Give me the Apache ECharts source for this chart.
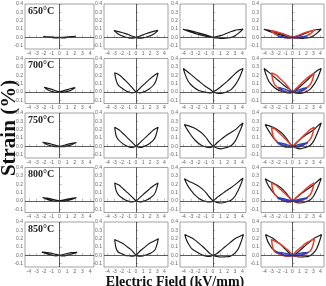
<!DOCTYPE html>
<html>
<head>
<meta charset="utf-8">
<script src="https://cdn.jsdelivr.net/npm/echarts@6/dist/echarts.min.js"></script>
<style>
  html, body { margin: 0; padding: 0; background: #fff; }
  #chart { width: 326px; height: 286px; }
</style>
</head>
<body>
<div id="chart"></div>
<script>
// tick labels and row titles
const fieldTicks = [-4, -3, -2, -1, 0, 1, 2, 3, 4]
const strainTicks = [-0.1, 0, 0.1, 0.2, 0.3, 0.4]
const temperatures = ['650°C', '700°C', '750°C', '800°C', '850°C']

// strain loops [E (kV/mm), S (%)]
// _2 = small field (col 1, blue in overlay), _3 = col 2 (red), _4 = col 3 (black)
const s650_2 = [[0,0],[0.5,-0.006],[1,-0.002],[1.5,0.004],[2.1,0.012],[1.5,0.008],[1,0.004],[0.5,0.0],[0,-0.004],[-0.5,-0.006],[-1,-0.002],[-1.5,0.004],[-2.1,0.01],[-1.5,0.007],[-1,0.003],[-0.5,0.0],[0,0]]
const s650_3 = [[0,0],[0.5,-0.01],[1,-0.006],[1.5,0.004],[2,0.018],[2.5,0.04],[2.8,0.06],[3.1,0.085],[2.6,0.074],[2,0.06],[1.5,0.046],[1,0.03],[0.5,0.013],[0,0],[-0.5,-0.01],[-1,-0.006],[-1.5,0.004],[-2,0.018],[-2.5,0.04],[-2.8,0.06],[-3.1,0.082],[-2.6,0.072],[-2,0.058],[-1.5,0.045],[-1,0.03],[-0.5,0.013],[0,0]]
const s650_4 = [[0,0],[0.5,-0.008],[1,-0.012],[1.5,-0.012],[2,-0.008],[2.5,0.0],[3,0.02],[3.5,0.05],[4.1,0.1],[3.5,0.092],[3,0.084],[2.5,0.07],[2,0.052],[1.5,0.035],[1,0.02],[0.5,0.008],[0,0],[-0.5,0.004],[-1,0.013],[-1.5,0.023],[-2,0.035],[-2.5,0.048],[-3,0.062],[-3.5,0.077],[-4.1,0.097],[-3.5,0.087],[-3,0.077],[-2.5,0.066],[-2,0.054],[-1.5,0.042],[-1,0.029],[-0.5,0.014],[0,0]]

const s700_2 = [[0,0],[0.5,-0.006],[1,0.004],[1.5,0.02],[2.05,0.05],[1.5,0.04],[1,0.027],[0.5,0.012],[0,0],[-0.5,-0.006],[-1,0.004],[-1.5,0.021],[-2,0.053],[-1.5,0.042],[-1,0.029],[-0.5,0.013],[0,0]]
const s700_3 = [[0,0],[0.5,-0.012],[1,-0.004],[1.5,0.015],[2,0.045],[2.5,0.085],[2.8,0.13],[3.1,0.225],[2.6,0.198],[2,0.158],[1.5,0.12],[1,0.08],[0.5,0.038],[0,0],[-0.5,-0.012],[-1,-0.004],[-1.5,0.016],[-2,0.045],[-2.5,0.08],[-2.8,0.14],[-3.0,0.228],[-2.3,0.2],[-1.8,0.16],[-1.3,0.12],[-0.8,0.075],[-0.4,0.035],[0,0]]
const s700_4 = [[0,0],[0.7,-0.02],[1.3,-0.015],[1.9,0.0],[2.5,0.03],[3.0,0.08],[3.5,0.15],[3.8,0.21],[4.1,0.28],[3.6,0.258],[3.2,0.232],[2.6,0.182],[2.0,0.132],[1.4,0.086],[0.9,0.05],[0.4,0.02],[0,0],[-0.2,-0.012],[-0.7,-0.01],[-1.3,0.0],[-2.0,0.02],[-2.5,0.045],[-3.0,0.085],[-3.4,0.13],[-3.8,0.21],[-4.05,0.28],[-3.6,0.25],[-3.1,0.215],[-2.5,0.17],[-1.8,0.12],[-1.1,0.07],[-0.4,0.03],[0,0]]

const s750_2 = [[0,0],[0.5,-0.005],[1,0.004],[1.6,0.02],[2.2,0.045],[1.6,0.036],[1,0.024],[0.5,0.01],[0,0],[-0.5,-0.005],[-1,0.004],[-1.6,0.02],[-2.2,0.048],[-1.6,0.038],[-1,0.025],[-0.5,0.011],[0,0]]
const s750_3 = [[0,0],[0.5,-0.012],[1,-0.006],[1.5,0.012],[2,0.04],[2.5,0.08],[2.8,0.13],[3.1,0.23],[2.5,0.2],[2,0.16],[1.5,0.12],[1,0.08],[0.5,0.038],[0,0],[-0.5,-0.012],[-1,-0.006],[-1.5,0.013],[-2,0.042],[-2.5,0.082],[-2.8,0.13],[-3.0,0.23],[-2.4,0.2],[-1.9,0.16],[-1.4,0.12],[-0.9,0.078],[-0.4,0.035],[0,0]]
const s750_4 = [[0,0],[0.5,-0.02],[1.1,-0.03],[1.8,-0.015],[2.5,0.01],[3.0,0.06],[3.4,0.13],[3.8,0.21],[4.1,0.28],[3.6,0.245],[3.2,0.21],[2.5,0.17],[1.8,0.13],[1.2,0.09],[0.7,0.055],[0.3,0.02],[0,0],[-0.3,-0.012],[-0.7,-0.012],[-1.3,0.0],[-1.9,0.03],[-2.4,0.07],[-2.8,0.11],[-3.2,0.16],[-3.5,0.2],[-3.9,0.26],[-3.3,0.245],[-2.7,0.225],[-2.0,0.19],[-1.4,0.15],[-0.9,0.1],[-0.5,0.05],[0,0]]

const s800_2 = [[0,0],[0.5,-0.005],[1,0.003],[1.6,0.017],[2.2,0.038],[1.6,0.03],[1,0.02],[0.5,0.008],[0,0],[-0.5,-0.005],[-1,0.003],[-1.6,0.018],[-2.2,0.04],[-1.6,0.032],[-1,0.021],[-0.5,0.009],[0,0]]
const s800_3 = [[0,0],[0.5,-0.012],[1,-0.006],[1.5,0.01],[2,0.035],[2.5,0.07],[2.8,0.12],[3.1,0.215],[2.5,0.185],[2,0.15],[1.5,0.112],[1,0.075],[0.5,0.035],[0,0],[-0.5,-0.012],[-1,-0.006],[-1.5,0.011],[-2,0.036],[-2.5,0.075],[-2.8,0.125],[-3.0,0.215],[-2.4,0.19],[-1.9,0.152],[-1.4,0.113],[-0.9,0.074],[-0.4,0.033],[0,0]]
const s800_4 = [[0,0],[0.5,-0.018],[1.1,-0.026],[1.8,-0.014],[2.5,0.01],[3.0,0.055],[3.4,0.12],[3.8,0.2],[4.1,0.27],[3.6,0.238],[3.1,0.2],[2.5,0.16],[1.8,0.12],[1.2,0.082],[0.7,0.05],[0.3,0.02],[0,0],[-0.3,-0.012],[-0.7,-0.012],[-1.3,0.0],[-1.9,0.028],[-2.4,0.065],[-2.8,0.105],[-3.2,0.15],[-3.5,0.19],[-3.9,0.265],[-3.3,0.235],[-2.7,0.212],[-2.0,0.178],[-1.4,0.138],[-0.9,0.092],[-0.5,0.046],[0,0]]

const s850_2 = [[0,0],[0.5,-0.006],[1,0.002],[1.6,0.016],[2.3,0.036],[1.6,0.032],[1,0.022],[0.5,0.01],[0,0],[-0.5,-0.006],[-1,0.002],[-1.6,0.017],[-2.3,0.038],[-1.6,0.033],[-1,0.023],[-0.5,0.011],[0,0]]
const s850_3 = [[0,0],[0.5,-0.01],[1,-0.006],[1.5,0.006],[2,0.025],[2.5,0.05],[2.8,0.09],[3.15,0.2],[2.5,0.17],[1.8,0.14],[1.2,0.095],[0.6,0.055],[0,0],[-0.5,-0.01],[-1,-0.005],[-1.5,0.0],[-2,0.02],[-2.5,0.04],[-2.8,0.085],[-3.0,0.19],[-2.4,0.165],[-1.8,0.14],[-1.2,0.1],[-0.6,0.06],[0,0]]
const s850_4 = [[0,0],[0.5,-0.012],[1.0,-0.02],[1.6,-0.018],[2.3,-0.012],[2.9,0.02],[3.45,0.08],[3.9,0.18],[4.15,0.25],[3.6,0.225],[3.0,0.2],[2.3,0.15],[1.6,0.1],[1.0,0.055],[0.5,0.02],[0,0],[-0.3,-0.01],[-0.7,-0.012],[-1.2,-0.004],[-1.8,0.02],[-2.4,0.05],[-2.9,0.08],[-3.3,0.13],[-3.6,0.18],[-3.85,0.25],[-3.3,0.225],[-2.7,0.2],[-2.0,0.15],[-1.33,0.1],[-0.8,0.055],[-0.4,0.02],[0,0]]

const loopsByRow = [
  [s650_2, s650_3, s650_4],
  [s700_2, s700_3, s700_4],
  [s750_2, s750_3, s750_4],
  [s800_2, s800_3, s800_4],
  [s850_2, s850_3, s850_4],
]

// panel layout (px)
const colLeft = [25, 104, 180, 261]
const colWidth = [69, 64, 66, 63]
const rowTop = [4, 58.5, 113, 167.5, 222]
const rowH = 45

const BLACK = '#1a1a1a'
const RED = '#e2412f'
const BLUE = '#2f3fb8'

const grid = []
const xAxis = []
const yAxis = []
const series = []
const graphic = []

const zeroLines = {
  silent: true,
  symbol: 'none',
  label: { show: false },
  lineStyle: { color: '#333', width: 0.8, type: 'solid' },
  data: [{ xAxis: 0 }, { yAxis: 0 }],
}

function addCurve(idx, data, color, width, withZero) {
  series.push({
    type: 'line',
    xAxisIndex: idx,
    yAxisIndex: idx,
    data,
    smooth: 0.3,
    showSymbol: false,
    lineStyle: { color, width },
    markLine: withZero ? zeroLines : undefined,
    z: 3,
  })
}

for (let r = 0; r < 5; r++) {
  for (let c = 0; c < 4; c++) {
    const idx = r * 4 + c
    grid.push({
      left: colLeft[c], top: rowTop[r], width: colWidth[c], height: rowH,
      show: true, borderColor: '#8a8a8a', borderWidth: 0.8,
    })
    xAxis.push({
      gridIndex: idx, type: 'value', min: -4.5, max: 4.5,
      axisLine: { show: false },
      splitLine: { show: false },
      axisTick: { show: true, inside: true, length: 2, customValues: fieldTicks, lineStyle: { color: '#888', width: 0.6 } },
      axisLabel: { customValues: fieldTicks, fontSize: 5, color: '#666', margin: 2, fontFamily: 'Liberation Sans' },
    })
    yAxis.push({
      gridIndex: idx, type: 'value', min: -0.14, max: 0.4,
      axisLine: { show: false },
      splitLine: { show: false },
      axisTick: { show: true, inside: true, length: 2, customValues: strainTicks, lineStyle: { color: '#888', width: 0.6 } },
      axisLabel: {
        customValues: strainTicks, fontSize: 5, color: '#666', margin: 2, fontFamily: 'Liberation Sans',
        formatter: v => v.toFixed(1),
      },
    })
    const loops = loopsByRow[r]
    if (c < 3) {
      addCurve(idx, loops[c], BLACK, 1.15, true)
    } else {
      addCurve(idx, loops[2], BLACK, 1.2, true)
      addCurve(idx, loops[1], RED, 1.5, false)
      addCurve(idx, loops[0], BLUE, 1.4, false)
    }
  }
  graphic.push({
    type: 'text', left: colLeft[0] + 3, top: rowTop[r] + 2,
    style: { text: temperatures[r], font: 'bold 10px "Liberation Serif"', fill: '#222' },
  })
}

graphic.push({
  type: 'text', x: 10, y: 128, rotation: Math.PI / 2,
  style: { text: 'Strain (%)', font: 'bold 21px "Liberation Serif"', fill: '#111', align: 'center', verticalAlign: 'middle' },
})
graphic.push({
  type: 'text', x: 175, y: 275,
  style: { text: 'Electric Field (kV/mm)', font: 'bold 14px "Liberation Serif"', fill: '#111', align: 'center', verticalAlign: 'top' },
})

const chart = echarts.init(document.getElementById('chart'), null, { renderer: 'canvas' })
chart.setOption({
  animation: false,
  backgroundColor: '#fff',
  grid, xAxis, yAxis, series, graphic,
})
</script>
</body>
</html>
